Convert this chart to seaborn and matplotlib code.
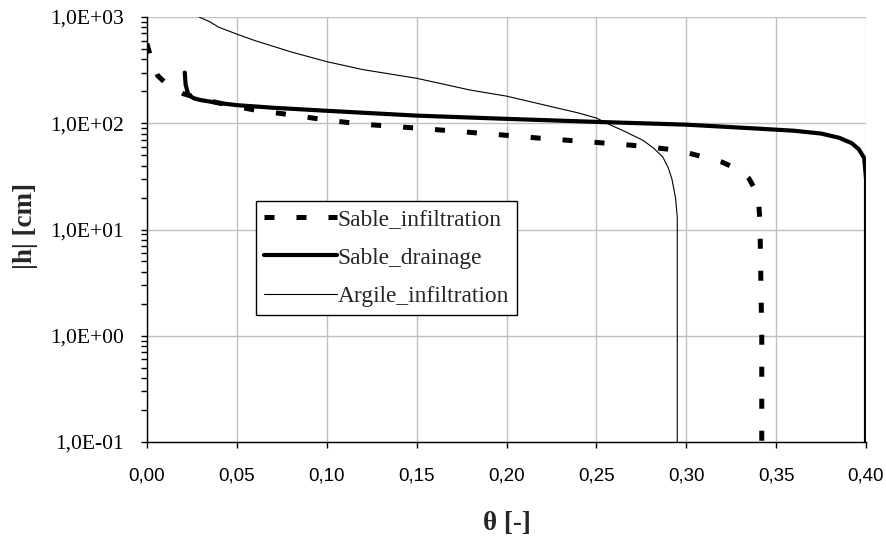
import numpy as np
import pandas as pd
import matplotlib
matplotlib.use("Agg")
import matplotlib.pyplot as plt
import matplotlib.ticker as mticker
import seaborn as sns

# Données (teneur en eau theta, succion |h| en cm)
sable_inf_theta = [0.000, 0.002, 0.006, 0.012, 0.020, 0.030, 0.040, 0.060, 0.080, 0.100,
                   0.120, 0.150, 0.180, 0.200, 0.220, 0.250, 0.270, 0.290, 0.300, 0.310,
                   0.320, 0.330, 0.335, 0.340, 0.341, 0.342, 0.342]
sable_inf_h = [560, 420, 280, 225, 190, 170, 155, 133, 120, 107,
               98, 90, 82, 77, 72, 66, 62, 57, 53, 48,
               43, 36, 30, 21, 12, 1.0, 0.1]

sable_dr_theta = [0.021, 0.0215, 0.023, 0.026, 0.030, 0.040, 0.050, 0.070, 0.100, 0.150,
                  0.200, 0.250, 0.300, 0.340, 0.360, 0.375, 0.385, 0.392, 0.396, 0.399,
                  0.400, 0.400]
sable_dr_h = [300, 230, 185, 172, 165, 155, 148, 140, 131, 118,
              110, 103, 97, 89, 85, 80, 73, 65, 57, 47,
              30, 0.1]

argile_theta = [0.029, 0.035, 0.040, 0.050, 0.060, 0.080, 0.100, 0.120, 0.150, 0.180,
                0.200, 0.220, 0.240, 0.250, 0.258, 0.265, 0.276, 0.282, 0.287, 0.290,
                0.292, 0.294, 0.295, 0.295]
argile_h = [1000, 900, 800, 690, 600, 470, 380, 320, 265, 205,
            180, 150, 125, 112, 96, 85, 69, 58, 48, 38,
            30, 20, 13, 0.1]

x_ticks = [0.00, 0.05, 0.10, 0.15, 0.20, 0.25, 0.30, 0.35, 0.40]
y_ticks = [0.1, 1, 10, 100, 1000]

sns.set_style("white")
plt.rcParams['font.family'] = ['Liberation Serif', 'DejaVu Serif']

fig = plt.figure(figsize=(8.87, 5.43), dpi=100)
ax = fig.add_axes([147 / 887, 101 / 543, 719 / 887, 425 / 543])

# estimator=None : pas d'agrégation sur les theta répétés (segments verticaux)
sns.lineplot(x=sable_inf_theta, y=sable_inf_h, ax=ax, sort=False, estimator=None,
             color='black', lw=3.6, label='Sable_infiltration')
ax.lines[-1].set_dashes([2.0, 4.4])
sns.lineplot(x=sable_dr_theta, y=sable_dr_h, ax=ax, sort=False, estimator=None,
             color='black', lw=3.0, label='Sable_drainage')
sns.lineplot(x=argile_theta, y=argile_h, ax=ax, sort=False, estimator=None,
             color='black', lw=0.8, label='Argile_infiltration')

ax.set_yscale('log')
ax.set_xlim(0, 0.40)
ax.set_ylim(0.1, 1000)
ax.set_xticks(x_ticks)
ax.xaxis.set_major_formatter(mticker.FuncFormatter(lambda v, p: f"{v:.2f}".replace('.', ',')))
ax.set_yticks(y_ticks)
ax.yaxis.set_major_formatter(mticker.FuncFormatter(
    lambda v, p: "1,0E{:+03d}".format(int(round(np.log10(v))))))
ax.yaxis.set_minor_locator(mticker.LogLocator(base=10, subs=np.arange(2, 10)))
ax.yaxis.set_minor_formatter(mticker.NullFormatter())

ax.grid(True, which='major', color='#c0c0c0', lw=1)
for s in ['top', 'right']:
    ax.spines[s].set_visible(False)
for s in ['left', 'bottom']:
    ax.spines[s].set_color('black')
    ax.spines[s].set_linewidth(1)

ax.tick_params(axis='both', which='major', direction='out', length=4.5, width=1,
               colors='black', left=True, bottom=True)
ax.tick_params(axis='y', which='minor', direction='out', length=4, width=1,
               colors='black', left=True)
ax.tick_params(axis='x', pad=14)
ax.tick_params(axis='y', pad=12)
for lab in ax.get_xticklabels():
    lab.set_fontfamily(['Liberation Sans', 'DejaVu Sans'])
    lab.set_fontsize(13.5)
for lab in ax.get_yticklabels():
    lab.set_fontsize(15.5)

ax.set_xlabel('θ [-]', fontsize=19.5, fontweight='bold', va='center')
ax.xaxis.set_label_coords(0.5, (442 - 523) / 425)
ax.set_ylabel('|h| [cm]', fontsize=19.5, fontweight='bold', va='center')
ax.yaxis.set_label_coords((25 - 147) / 719, (442 - 226) / 425)

leg = ax.legend(loc='upper left', bbox_to_anchor=(0.1516, 0.567), borderaxespad=0,
                fontsize=16.8, frameon=True, fancybox=False, handlelength=3.1,
                handletextpad=0.05, borderpad=0.35, labelspacing=0.72)
leg.get_frame().set_edgecolor('black')
leg.get_frame().set_linewidth(1)
leg.get_frame().set_alpha(1)

fig.savefig('out.png', dpi=100)
